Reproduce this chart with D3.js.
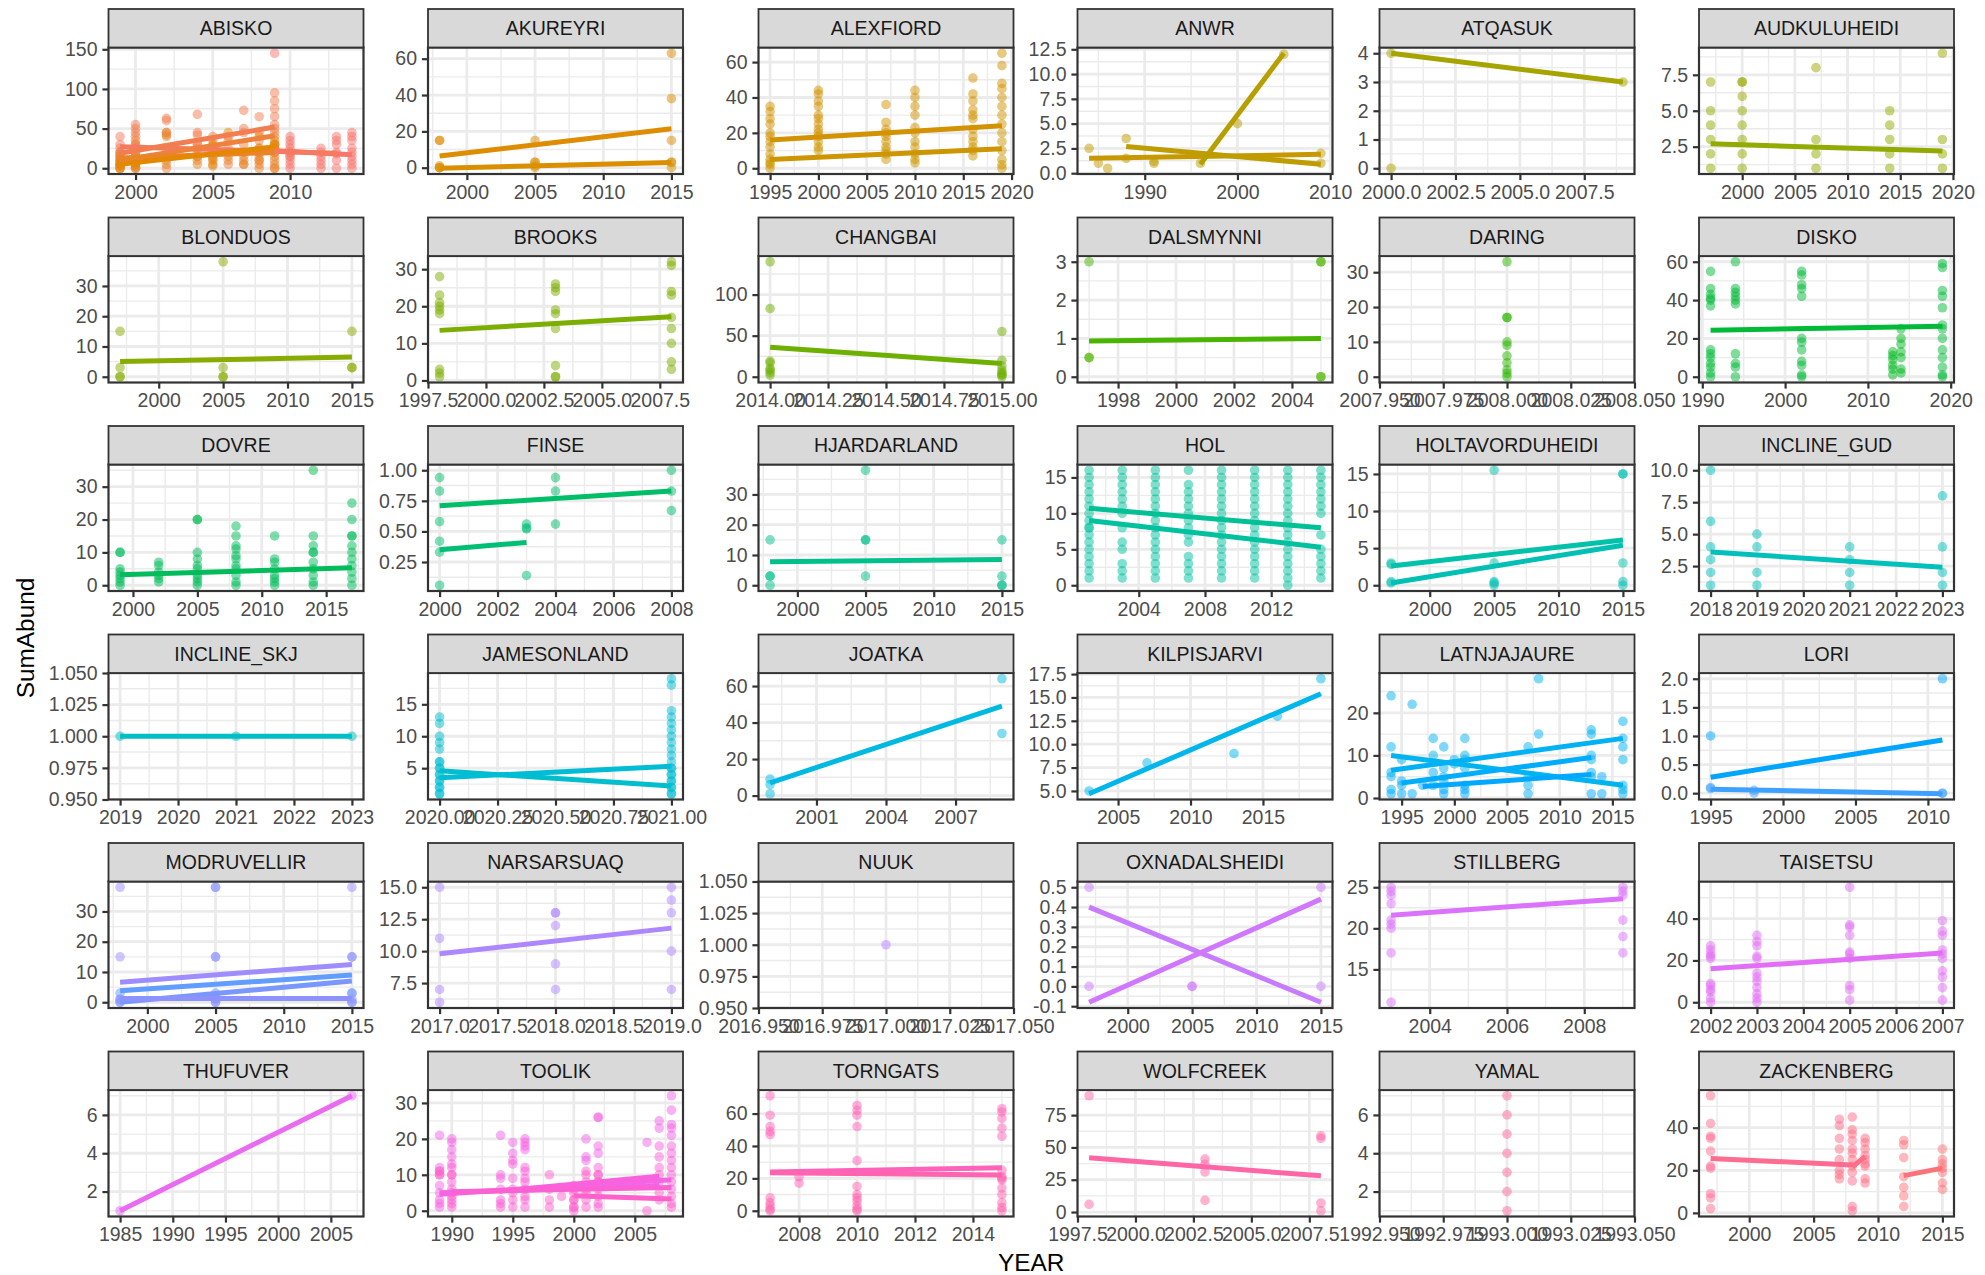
<!DOCTYPE html>
<html>
<head>
<meta charset="utf-8">
<script src="https://cdn.jsdelivr.net/npm/d3@7"></script>
<style>
  html, body { margin: 0; padding: 0; background: #ffffff; }
  svg { display: block; font-family: "Liberation Sans", Arial, Helvetica, sans-serif; }
</style>
</head>
<body>
<script>
// ---------------- data ----------------
const SITES = ["ABISKO","AKUREYRI","ALEXFIORD","ANWR","ATQASUK","AUDKULUHEIDI",
  "BLONDUOS","BROOKS","CHANGBAI","DALSMYNNI","DARING","DISKO",
  "DOVRE","FINSE","HJARDARLAND","HOL","HOLTAVORDUHEIDI","INCLINE_GUD",
  "INCLINE_SKJ","JAMESONLAND","JOATKA","KILPISJARVI","LATNJAJAURE","LORI",
  "MODRUVELLIR","NARSARSUAQ","NUUK","OXNADALSHEIDI","STILLBERG","TAISETSU",
  "THUFUVER","TOOLIK","TORNGATS","WOLFCREEK","YAMAL","ZACKENBERG"];

// axis breaks per site (same order as SITES)
const X_BREAKS = [
  [2000,2005,2010],[2000,2005,2010,2015],[1995,2000,2005,2010,2015,2020],[1990,2000,2010],[2000,2002.5,2005,2007.5],[2000,2005,2010,2015,2020],
  [2000,2005,2010,2015],[1997.5,2000,2002.5,2005,2007.5],[2014,2014.25,2014.5,2014.75,2015],[1998,2000,2002,2004],[2007.95,2007.975,2008,2008.025,2008.05],[1990,2000,2010,2020],
  [2000,2005,2010,2015],[2000,2002,2004,2006,2008],[2000,2005,2010,2015],[2004,2008,2012],[2000,2005,2010,2015],[2018,2019,2020,2021,2022,2023],
  [2019,2020,2021,2022,2023],[2020,2020.25,2020.5,2020.75,2021],[2001,2004,2007],[2005,2010,2015],[1995,2000,2005,2010,2015],[1995,2000,2005,2010],
  [2000,2005,2010,2015],[2017,2017.5,2018,2018.5,2019],[2016.95,2016.975,2017,2017.025,2017.05],[2000,2005,2010,2015],[2004,2006,2008],[2002,2003,2004,2005,2006,2007],
  [1985,1990,1995,2000,2005],[1990,1995,2000,2005],[2008,2010,2012,2014],[1997.5,2000,2002.5,2005,2007.5],[1992.95,1992.975,1993,1993.025,1993.05],[2000,2005,2010,2015]
];
const Y_BREAKS = [
  [0,50,100,150],[0,20,40,60],[0,20,40,60],[0,2.5,5,7.5,10,12.5],[0,1,2,3,4],[2.5,5,7.5],
  [0,10,20,30],[0,10,20,30],[0,50,100],[0,1,2,3],[0,10,20,30],[0,20,40,60],
  [0,10,20,30],[0.25,0.5,0.75,1],[0,10,20,30],[0,5,10,15],[0,5,10,15],[2.5,5,7.5,10],
  [0.95,0.975,1,1.025,1.05],[5,10,15],[0,20,40,60],[5,7.5,10,12.5,15,17.5],[0,10,20],[0,0.5,1,1.5,2],
  [0,10,20,30],[7.5,10,12.5,15],[0.95,0.975,1,1.025,1.05],[-0.1,0,0.1,0.2,0.3,0.4,0.5],[15,20,25],[0,20,40],
  [2,4,6],[0,10,20,30],[0,20,40,60],[0,25,50,75],[2,4,6],[0,20,40]
];

// subsites: owning site, observations [YEAR, [SumAbund...]], linear trend [x0, y0, x1, y1]
const SUBSITE_SITE = [
  "ABISKO","ABISKO","ABISKO","ABISKO","ABISKO","ABISKO",
  "AKUREYRI","AKUREYRI",
  "ALEXFIORD","ALEXFIORD",
  "ANWR","ANWR","ANWR",
  "ATQASUK","ATQASUK",
  "AUDKULUHEIDI","AUDKULUHEIDI",
  "BLONDUOS","BROOKS","CHANGBAI",
  "DALSMYNNI","DALSMYNNI",
  "DARING",
  "DISKO","DISKO",
  "DOVRE","DOVRE",
  "FINSE","FINSE",
  "HJARDARLAND","HJARDARLAND",
  "HOL","HOL",
  "HOLTAVORDUHEIDI","HOLTAVORDUHEIDI",
  "INCLINE_GUD","INCLINE_SKJ",
  "JAMESONLAND","JAMESONLAND",
  "JOATKA","JOATKA",
  "KILPISJARVI",
  "LATNJAJAURE","LATNJAJAURE","LATNJAJAURE","LATNJAJAURE",
  "LORI","LORI",
  "MODRUVELLIR","MODRUVELLIR","MODRUVELLIR","MODRUVELLIR",
  "NARSARSUAQ","NUUK",
  "OXNADALSHEIDI","OXNADALSHEIDI",
  "STILLBERG","TAISETSU","THUFUVER",
  "TOOLIK","TOOLIK","TOOLIK","TOOLIK","TOOLIK","TOOLIK",
  "TORNGATS","TORNGATS",
  "WOLFCREEK","YAMAL",
  "ZACKENBERG","ZACKENBERG","ZACKENBERG"
];

const SUBSITE_OBS = [
  // ABISKO
  [[2009,[145,30,25,20]],[2010,[40,35,30,25,20,15,10,5,0]],[2012,[25,20,15,10,5,0]],[2013,[40,35,30,20,10,0]],[2014,[45,40,35,25,20,15,10,5,0]]],
  [[1999,[40,30,25,20,15]],[2000,[30,25,20]],[2004,[30,25]],[2008,[25,20]],[2010,[20,15]],[2013,[18]]],
  [[1999,[20,15,10,5,0]],[2000,[55,50,45,40,20,10,0]],[2002,[63,60,45,42]],[2004,[68,45,42]],[2007,[73,50,45]],[2008,[65,45]],[2009,[95,85,75,65,55,50]]],
  [[1999,[12,8,3,0]],[2000,[35,30,25,15,5]],[2002,[20,10,0]],[2004,[30,20,15]],[2005,[40,35,25,15,5]],[2006,[40,35,25,10,5]],[2007,[30,15,5]],[2008,[35,20,10,5]],[2009,[45,40,30,20,10,0]]],
  [[1999,[18,10,5]],[2000,[15,10,5,0]],[2002,[45,40,5]],[2004,[15,10,5]],[2005,[20,10]],[2006,[20,15]],[2007,[20,10,5]],[2008,[15,10,0]],[2009,[25,15,5,0]]],
  [[1999,[6,3,0]],[2000,[8,2]],[2005,[30,28,12,3]],[2006,[45]],[2008,[40,25]],[2009,[35,30,25]]],
  // AKUREYRI
  [[1998,[15,15,0]],[2005,[15,3]],[2015,[63,38,15]]],
  [[1998,[0,1,0]],[2005,[0,1,3]],[2015,[3,0,3]]],
  // ALEXFIORD
  [[1995,[35,32,28,25,20,18]],[2000,[44,42,38,35,30,28,25,22,20]],[2007,[36,26,22,20,18]],[2010,[44,40,35,30,23,20]],[2016,[51,42,38,33,30,28,22]],[2019,[65,58,48,45,40,35,30,25]]],
  [[1995,[15,12,8,5,3,2,0]],[2000,[18,15,12,10]],[2007,[15,12,10,8,5]],[2010,[15,12,8,5,3]],[2016,[18,15,12,10,7]],[2019,[20,15,10,5,2,0]]],
  // ANWR
  [[1984,[2.5]],[1985,[1.0]],[1986,[0.5]],[1991,[1.0]],[2009,[2.0]]],
  [[1988,[3.5,1.5]],[1991,[1.2]],[2009,[1.0]]],
  [[1996,[1.0]],[2000,[5.0]],[2005,[12.0]]],
  // ATQASUK
  [[2000,[0]]],
  [[2000,[4]],[2009,[3]]],
  // AUDKULUHEIDI
  [[1997,[7]],[2000,[7,6]],[2007,[8]],[2019,[9]]],
  [[1997,[5,4,3,2,1]],[2000,[7,5,4,3,2,1]],[2007,[3,2,1]],[2014,[5,4,3,2,1]],[2019,[3,2,1]]],
  // BLONDUOS
  [[1997,[15,3,0,0]],[2005,[38,3,0,0]],[2015,[15,3,3]]],
  // BROOKS
  [[1998,[28,23,21,20,19,18,3,2,1]],[2003,[26,25,24,19,18,14,4,1,1]],[2008,[32,31,24,23,17,14,10,5,3]]],
  // CHANGBAI
  [[2014,[140,83,19,17,10,8,5,2]],[2015,[55,20,13,8,5,3,2,0]]],
  // DALSMYNNI
  [[1997,[0.5]],[2005,[0]]],
  [[1997,[3,0.5]],[2005,[3,3,0]]],
  // DARING
  [[2008,[33,17,17,10,9,6,4,2,1,0]]],
  // DISKO
  [[2013,[13,11,9,6,4,1]],[2014,[25,20,17,13,10,4,2]]],
  [[1991,[55,46,43,41,40,37,14,12,10,7,5,2,0]],[1994,[60,46,44,42,40,38,12,7,5,0]],[2002,[55,53,48,46,42,20,18,14,8,6,1,0]],[2019,[59,57,45,42,36,27,25,20,14,10,5,1,0]]],
  // DOVRE
  [[2005,[20,20]],[2014,[35]]],
  [[1999,[10,10,5,4,3,2,1,0]],[2002,[7,6,4,3,2,1]],[2005,[10,8,6,5,3,2,1,0]],[2008,[18,15,12,11,9,8,6,5,3,1,0]],[2011,[15,8,7,5,3,2,1,0]],[2014,[15,12,10,10,7,5,3,1,0]],[2017,[25,20,15,15,12,10,8,6,4,2,0]]],
  // FINSE
  [[2000,[0.94,0.83,0.58]],[2004,[0.94,0.83,0.56]],[2008,[1.0,0.83,0.67]]],
  [[2000,[0.42,0.33,0.06]],[2003,[0.56,0.53,0.52,0.14]]],
  // HJARDARLAND
  [[2005,[38]]],
  [[1998,[15,3,3,0]],[2005,[15,15,3]],[2015,[15,3,0,0]]],
  // HOL
  [[2001,[16,15,14,13,12,11,10,9,8]],[2003,[16,15,14,13,12,11,10]],[2005,[16,15,14,13,12,11,10,9]],[2007,[16,14,13,12,11,10,9]],[2009,[16,15,14,13,12,11,10,9]],[2011,[16,15,14,13,12,11,10,9]],[2013,[16,15,14,13,12,11,10,9]],[2015,[16,15,14,13,12,11,10]]],
  [[2001,[8,7,6,5,4,3,2,1]],[2003,[8,6,5,3,2,1]],[2005,[8,7,6,5,4,3,2,1]],[2007,[8,7,6,4,3,2,1]],[2009,[8,7,6,5,4,3,2,1]],[2011,[8,7,6,5,4,3,2,1]],[2013,[8,7,6,5,4,3,2,1,0]],[2015,[7,5,4,3,2,1]]],
  // HOLTAVORDUHEIDI
  [[1997,[3,2.8]],[2005,[15.5,3]],[2015,[15,3]]],
  [[1997,[0.5,0.3]],[2005,[0.5,0.3,0]],[2015,[15,0.5,0]]],
  // INCLINE_GUD
  [[2018,[10,6,4,3,2,1]],[2019,[5,4,2,1]],[2021,[4,3,2,1]],[2023,[8,4,2,1]]],
  // INCLINE_SKJ
  [[2019,[1]],[2021,[1]],[2023,[1]]],
  // JAMESONLAND
  [[2020,[13,12,10,9,8,6,5,4,3,2,1]],[2021,[5,4,3,2,1]]],
  [[2020,[6,5,4,3,2,1]],[2021,[19,18,14,13,12,11,10,9,8,7,6,5,4,3,2,1]]],
  // JOATKA
  [[1999,[1]]],
  [[1999,[9,6]],[2009,[64,34]]],
  // KILPISJARVI
  [[2003,[5]],[2007,[8]],[2013,[9]],[2016,[13]],[2019,[17]]],
  // LATNJAJAURE
  [[1994,[24,12,6]],[1996,[22]],[1998,[14,10]],[2001,[14,10]],[2007,[12]],[2008,[28]],[2013,[16,10]],[2016,[3,2,1]]],
  [[1994,[5,2]],[1995,[9]],[1999,[12,7]],[2001,[9,7]],[2007,[5,3]],[2008,[15]],[2013,[15,9]],[2016,[18,14,12,9]]],
  [[1995,[4,3]],[1996,[1]],[1998,[6,3]],[1999,[5,4]],[2000,[9,8]],[2007,[1]],[2013,[6,5]]],
  [[1994,[1]],[1995,[1]],[1997,[3]],[1999,[2,1]],[2001,[3,2,1]],[2013,[1]],[2014,[5,1]]],
  // LORI
  [[1995,[1.0]],[2011,[2.0]]],
  [[1995,[0.1,0.08]],[1998,[0.05,0.0]],[2011,[0.0,0.0]]],
  // MODRUVELLIR
  [[1998,[3,1]],[2005,[38,15,3]],[2015,[15,3]]],
  [[1998,[0]],[2005,[2,1,0]],[2015,[3,0]]],
  [[1998,[1,0]],[2005,[1,0]],[2015,[1,0]]],
  [[1998,[38,15]],[2005,[38,15]],[2015,[38,15]]],
  // NARSARSUAQ
  [[2017,[15,11,7,6]],[2018,[13,13,12,9,7]],[2019,[15,14,13,10,7]]],
  // NUUK
  [[2017,[1]]],
  // OXNADALSHEIDI
  [[1997,[0.5]],[2005,[0]],[2015,[0]]],
  [[1997,[0]],[2005,[0]],[2015,[0.5]]],
  // STILLBERG
  [[2003,[25,24.5,24,23,21,20.5,20,17,11]],[2009,[25,24.5,24,21,19,17]]],
  // TAISETSU
  [[2002,[27,25,23,22,21,9,8,6,5,2,0]],[2003,[32,29,27,22,21,14,12,10,7,4,2,0]],[2005,[55,37,36,32,24,23,21,8,6,1]],[2007,[39,34,32,25,23,21,15,12,7,1]]],
  // THUFUVER
  [[1985,[1]],[2007,[7]]],
  // TOOLIK
  [[1989,[21,12,11,10]],[1994,[21,10]],[1995,[19,16]],[2001,[20,15,14]],[2006,[19]],[2007,[25,23]],[2008,[24,21]]],
  [[1989,[7,5,3,2,1]],[1990,[20,19,17,15]],[1996,[20,19,18,17]],[2000,[7,6]],[2002,[26,26,18,16]],[2008,[32,28,23]]],
  [[1990,[13,12,10,8]],[1994,[9,6,3]],[1995,[14,13,9]],[1996,[12,11,9]],[2002,[12,10,8]],[2007,[18,15,12]],[2008,[18,16,14]]],
  [[1990,[6,5,4,3,2,1]],[1994,[2,1]],[1995,[6,5,3,1]],[1996,[8,6,4,3,1]],[2000,[5,3,1,0]],[2002,[6,4,2,1]],[2008,[12,10,8,6]]],
  [[1998,[10,6,3,1]],[1999,[4]],[2000,[3,1]],[2001,[11,10,7,5,3,1]],[2006,[0]],[2007,[8,5,3]],[2008,[4,2,1]]],
  [[1989,[11,10]],[1990,[10]],[2001,[8,6]],[2002,[10,8]],[2007,[10]]],
  // TORNGATS
  [[2007,[71,59,52,49,47]],[2008,[21,17]],[2010,[65,62,59,52,31]],[2015,[63,61,57,51,46]]],
  [[2007,[8,5,3,1,0]],[2010,[15,10,8,6,3,1,0]],[2015,[25,21,20,19,14,10,5,2,0]]],
  // WOLFCREEK
  [[1998,[90,6]],[2003,[41,37,31,9]],[2008,[59,57,7,1]]],
  // YAMAL
  [[1993,[7,6,5,4,3,2,1]]],
  // ZACKENBERG
  [[1997,[55,42,36,35,29,22,21,9,7,2]],[2007,[44,41,35]],[2008,[15,3,1]]],
  [[2007,[30,25,20,18,16]],[2008,[45,39,37,34,30,28,25,22,19]],[2009,[35,33,30,27,25,23,22,16,14]]],
  [[2012,[34,32,26,17,12,8,3]],[2015,[30,25,23,21,19,14,11]]]
];

const SUBSITE_TREND = [
  [2009,22,2014,17],[1999,27,2013,19],[1999,19,2009,52],[1999,10,2009,41],[1999,13,2009,20],[1999,5,2009,27],
  [1998,6.4,2015,21.5],[1998,-0.3,2015,2.9],
  [1995,15.9,2019,24],[1995,4.9,2019,11],
  [1984,1.5,2009,1.9],[1988,2.7,2009,0.9],[1996,0.9,2005,12.1],
  null,[2000,4,2009,3],
  null,[1997,2.7,2019,2.2],
  [1997,5,2015,6.5],[1998,13.5,2008,17.2],[2014,36,2015,16],
  null,[1997,0.93,2005,1.0],
  null,
  null,[1991,24.3,2019,26.3],
  null,[1999,3.2,2017,5.3],
  [2000,0.71,2008,0.83],[2000,0.35,2003,0.41],
  null,[1998,7.8,2015,8.5],
  [2001,10.7,2015,8.0],[2001,9.0,2015,5.3],
  [1997,2.6,2015,6.1],[1997,0.3,2015,5.4],
  [2018,3.6,2023,2.4],[2019,1,2023,1],
  [2020,4.6,2021,2.2],[2020,3.5,2021,5.3],
  null,[1999,7,2009,49],
  [2003,4.7,2019,15.4],
  [1994,10,2016,3],[1994,6.5,2016,14],[1995,3.5,2013,9.5],[1997,2.7,2013,5.5],
  [1995,0.28,2011,0.93],[1995,0.07,2011,-0.01],
  [1998,3.8,2015,9.0],[1998,0,2015,7],[1998,1.2,2015,1.2],[1998,6.6,2015,12.5],
  [2017,9.8,2019,11.8],null,
  [1997,0.40,2015,-0.08],[1997,-0.08,2015,0.44],
  [2003,21.6,2009,23.6],[2002,16,2007,23.5],[1985,1,2007,7],
  [1989,5.0,2007,7.0],[1989,4.6,2008,8.6],[1994,5.5,2007,9.6],[1990,5.3,2008,6.5],[2000,4.2,2008,3.3],null,
  [2007,24,2015,26.5],[2007,23.5,2015,22],
  [1998,42,2008,28],null,
  [1997,25.5,2008,22.5],[2008,21.5,2009,26.5],[2012,17.5,2015,21]
];

// ---------------- layout ----------------
const W = 1985, H = 1275;
const COL_X = [108.5, 428, 758.5, 1077.5, 1379.5, 1699];
const PANEL_W = 255, STRIP_H = 38.5, PANEL_H = 126.5;
const ROW_TOP = 9, ROW_STEP = 208.5;
const FONT = 19.5;

// R-style polar LUV colour (hcl) -> hex
function hcl(h, c, l) {
  const WX = 95.047, WY = 100.0, WZ = 108.883;
  const Wu = 4 * WX / (WX + 15 * WY + 3 * WZ), Wv = 9 * WY / (WX + 15 * WY + 3 * WZ);
  const hr = h * Math.PI / 180;
  const U = c * Math.cos(hr), V = c * Math.sin(hr);
  const Y = WY * (l > 7.999592 ? Math.pow((l + 16) / 116, 3) : l / 903.3);
  const u = U / (13 * l) + Wu, v = V / (13 * l) + Wv;
  const X = 9 * Y * u / (4 * v);
  const Z = -X / 3 - 5 * Y + 3 * Y / v;
  const g = t => { t = t <= 0.0031308 ? 12.92 * t : 1.055 * Math.pow(t, 1 / 2.4) - 0.055; return Math.max(0, Math.min(1, t)); };
  const r = g((3.240479 * X - 1.537150 * Y - 0.498535 * Z) / WY);
  const gg = g((-0.969256 * X + 1.875992 * Y + 0.041556 * Z) / WY);
  const b = g((0.055648 * X - 0.204043 * Y + 1.057311 * Z) / WY);
  return d3.rgb(r * 255, gg * 255, b * 255).formatHex();
}
const NSUB = SUBSITE_SITE.length;
const subColour = i => hcl(15 + 360 * i / NSUB, 100, 65);

function decimals(v) {
  const s = String(+v.toFixed(6));
  return s.includes(".") ? s.split(".")[1].length : 0;
}
function makeFormat(breaks) {
  const d = d3.max(breaks, decimals) || 0;
  return v => v.toFixed(d);
}
function limits(vals) {
  const lo = d3.min(vals), hi = d3.max(vals);
  if (hi - lo < 1e-12) return [lo - 0.05, hi + 0.05];
  const e = (hi - lo) * 0.05;
  return [lo - e, hi + e];
}
function minorBreaks(b, lim) {
  b = b.filter(v => v >= lim[0] - 1e-9 && v <= lim[1] + 1e-9);
  if (b.length < 2) return [];
  const bd = b[1] - b[0];
  if (lim[0] < b[0]) b = [b[0] - bd].concat(b);
  if (lim[1] > b[b.length - 1]) b = b.concat([b[b.length - 1] + bd]);
  const out = [];
  for (let i = 0; i < b.length - 1; i++) {
    const m = (b[i] + b[i + 1]) / 2;
    if (m >= lim[0] && m <= lim[1]) out.push(m);
  }
  return out;
}

const svg = d3.select("body").append("svg")
  .attr("width", W).attr("height", H)
  .attr("viewBox", `0 0 ${W} ${H}`);
svg.append("rect").attr("width", W).attr("height", H).attr("fill", "#ffffff");
const defs = svg.append("defs");

SITES.forEach((site, k) => {
  const col = k % 6, row = Math.floor(k / 6);
  const px = COL_X[col];
  const sy = ROW_TOP + row * ROW_STEP;
  const py = sy + STRIP_H;

  const subs = d3.range(NSUB).filter(i => SUBSITE_SITE[i] === site);
  const xs = [], ys = [];
  subs.forEach(i => {
    SUBSITE_OBS[i].forEach(([yr, vals]) => vals.forEach(v => { xs.push(yr); ys.push(v); }));
    const t = SUBSITE_TREND[i];
    if (t) { xs.push(t[0], t[2]); ys.push(t[1], t[3]); }
  });
  const xLim = limits(xs), yLim = limits(ys);
  const x = d3.scaleLinear().domain(xLim).range([px, px + PANEL_W]);
  const y = d3.scaleLinear().domain(yLim).range([py + PANEL_H, py]);
  const xb = X_BREAKS[k].filter(v => v >= xLim[0] - 1e-9 && v <= xLim[1] + 1e-9);
  const yb = Y_BREAKS[k].filter(v => v >= yLim[0] - 1e-9 && v <= yLim[1] + 1e-9);

  const g = svg.append("g").attr("class", "panel");
  const clipId = "clip" + k;
  defs.append("clipPath").attr("id", clipId)
    .append("rect").attr("x", px).attr("y", py).attr("width", PANEL_W).attr("height", PANEL_H);

  g.append("rect").attr("x", px).attr("y", py).attr("width", PANEL_W).attr("height", PANEL_H).attr("fill", "#ffffff");

  const grid = g.append("g").attr("clip-path", `url(#${clipId})`).attr("stroke", "#EBEBEB");
  minorBreaks(X_BREAKS[k], xLim).forEach(v => grid.append("line")
    .attr("x1", x(v)).attr("x2", x(v)).attr("y1", py).attr("y2", py + PANEL_H).attr("stroke-width", 1.4));
  minorBreaks(Y_BREAKS[k], yLim).forEach(v => grid.append("line")
    .attr("x1", px).attr("x2", px + PANEL_W).attr("y1", y(v)).attr("y2", y(v)).attr("stroke-width", 1.4));
  xb.forEach(v => grid.append("line")
    .attr("x1", x(v)).attr("x2", x(v)).attr("y1", py).attr("y2", py + PANEL_H).attr("stroke-width", 2.8));
  yb.forEach(v => grid.append("line")
    .attr("x1", px).attr("x2", px + PANEL_W).attr("y1", y(v)).attr("y2", y(v)).attr("stroke-width", 2.8));

  const marks = g.append("g").attr("clip-path", `url(#${clipId})`);
  subs.forEach(i => {
    const c = subColour(i);
    const pts = [];
    SUBSITE_OBS[i].forEach(([yr, vals]) => vals.forEach(v => pts.push([yr, v])));
    marks.append("g").selectAll("circle").data(pts).join("circle")
      .attr("cx", d => x(d[0])).attr("cy", d => y(d[1])).attr("r", 4.8)
      .attr("fill", c).attr("fill-opacity", 0.5);
  });
  subs.forEach(i => {
    const t = SUBSITE_TREND[i];
    if (!t) return;
    marks.append("line")
      .attr("x1", x(t[0])).attr("y1", y(t[1])).attr("x2", x(t[2])).attr("y2", y(t[3]))
      .attr("stroke", subColour(i)).attr("stroke-width", 5).attr("stroke-linecap", "butt");
  });

  g.append("rect").attr("x", px).attr("y", py).attr("width", PANEL_W).attr("height", PANEL_H)
    .attr("fill", "none").attr("stroke", "#333333").attr("stroke-width", 2.2);

  // strip
  g.append("rect").attr("x", px).attr("y", sy).attr("width", PANEL_W).attr("height", STRIP_H)
    .attr("fill", "#D9D9D9").attr("stroke", "#333333").attr("stroke-width", 1.8);
  g.append("text").attr("x", px + PANEL_W / 2).attr("y", sy + STRIP_H / 2).attr("dy", "0.35em")
    .attr("text-anchor", "middle").attr("font-size", FONT).attr("fill", "#1A1A1A").text(site);

  // axes
  const ax = g.append("g").attr("transform", `translate(0,${py + PANEL_H})`)
    .call(d3.axisBottom(x).tickValues(xb).tickFormat(makeFormat(X_BREAKS[k]))
      .tickSizeInner(6.1).tickSizeOuter(0).tickPadding(4.9));
  const ay = g.append("g").attr("transform", `translate(${px},0)`)
    .call(d3.axisLeft(y).tickValues(yb).tickFormat(makeFormat(Y_BREAKS[k]))
      .tickSizeInner(6.1).tickSizeOuter(0).tickPadding(4.9));
  [ax, ay].forEach(a => {
    a.select(".domain").remove();
    a.selectAll(".tick line").attr("stroke", "#333333").attr("stroke-width", 2.2);
    a.selectAll(".tick text").attr("fill", "#4D4D4D").attr("font-size", FONT)
      .attr("font-family", "\"Liberation Sans\", Arial, sans-serif");
  });
});

// axis titles
svg.append("text").attr("x", (COL_X[0] + COL_X[5] + PANEL_W) / 2).attr("y", 1271)
  .attr("text-anchor", "middle").attr("font-size", 24.4).attr("fill", "#000000").text("YEAR");
svg.append("text").attr("transform", "translate(34,638) rotate(-90)")
  .attr("text-anchor", "middle").attr("font-size", 24.4).attr("fill", "#000000").text("SumAbund");
</script>
</body>
</html>
